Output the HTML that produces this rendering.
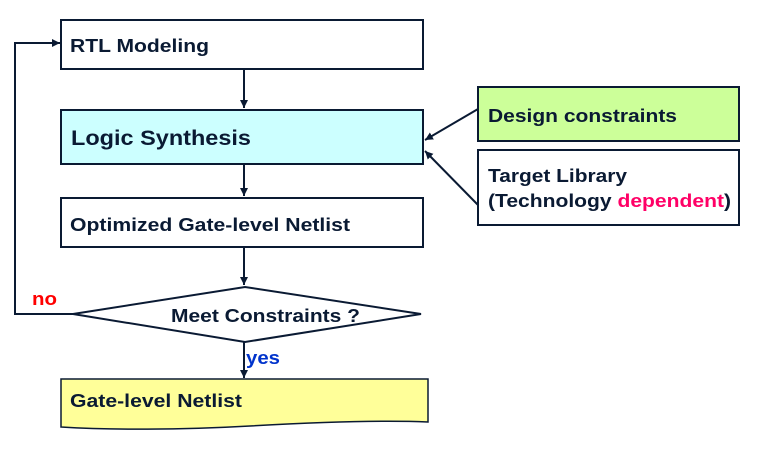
<!DOCTYPE html>
<html><head><meta charset="utf-8"><style>
html,body{margin:0;padding:0;background:#fff}
svg{display:block}
text{font-family:"Liberation Sans",Arial,sans-serif;font-weight:bold;fill:#0a1a33}
</style></head><body>
<svg width="767" height="454" viewBox="0 0 767 454" xmlns="http://www.w3.org/2000/svg">
<defs><marker id="a" markerWidth="9" markerHeight="9" refX="8" refY="4.5" orient="auto" markerUnits="userSpaceOnUse"><path d="M0,0.5 L8,4.5 L0,8.5 z" fill="#0a1a33"/></marker></defs>
<g stroke="#0a1a33" stroke-width="2">
<rect x="61" y="20" width="362" height="49" fill="#fff"/>
<rect x="61" y="110" width="362" height="54" fill="#ccffff"/>
<rect x="61" y="198" width="362" height="49" fill="#fff"/>
<rect x="478" y="87" width="261" height="54" fill="#ccff99"/>
<rect x="478" y="150" width="261" height="75" fill="#fff"/>
<polygon points="73,314 245,287 421,314 245,342" fill="#fff"/>
<path d="M61,379 L428,379 L428,422 C380,420 320,422 250,426 C180,430 110,430 61,427 Z" fill="#ffff99" stroke-width="1.5"/>
</g>
<g stroke="#0a1a33" stroke-width="2" fill="none" marker-end="url(#a)">
<line x1="244" y1="69" x2="244" y2="108"/>
<line x1="244" y1="164" x2="244" y2="196"/>
<line x1="244" y1="247" x2="244" y2="285"/>
<line x1="244" y1="342" x2="244" y2="378"/>
<polyline points="73,314 15,314 15,43 60,43"/>
<line x1="478" y1="109" x2="425" y2="140"/>
<line x1="478" y1="205" x2="425" y2="151"/>
</g>
<text x="70" y="52" font-size="18" textLength="139" lengthAdjust="spacingAndGlyphs">RTL Modeling</text>
<text x="71" y="145" font-size="21" textLength="180" lengthAdjust="spacingAndGlyphs">Logic Synthesis</text>
<text x="70" y="231" font-size="18" textLength="280" lengthAdjust="spacingAndGlyphs">Optimized Gate-level Netlist</text>
<text x="171" y="322" font-size="18" textLength="189" lengthAdjust="spacingAndGlyphs">Meet Constraints ?</text>
<text x="70" y="407" font-size="18" textLength="172" lengthAdjust="spacingAndGlyphs">Gate-level Netlist</text>
<text x="488" y="122" font-size="18" textLength="189" lengthAdjust="spacingAndGlyphs">Design constraints</text>
<text x="488" y="182" font-size="18" textLength="139" lengthAdjust="spacingAndGlyphs">Target Library</text>
<text x="488" y="207" font-size="18" textLength="243" lengthAdjust="spacingAndGlyphs">(Technology <tspan style="fill:#ff0066">dependent</tspan>)</text>
<text x="32" y="305" font-size="18" style="fill:#ff0000" textLength="25" lengthAdjust="spacingAndGlyphs">no</text>
<text x="246" y="364" font-size="18" style="fill:#0033cc" textLength="34" lengthAdjust="spacingAndGlyphs">yes</text>
</svg>
</body></html>
